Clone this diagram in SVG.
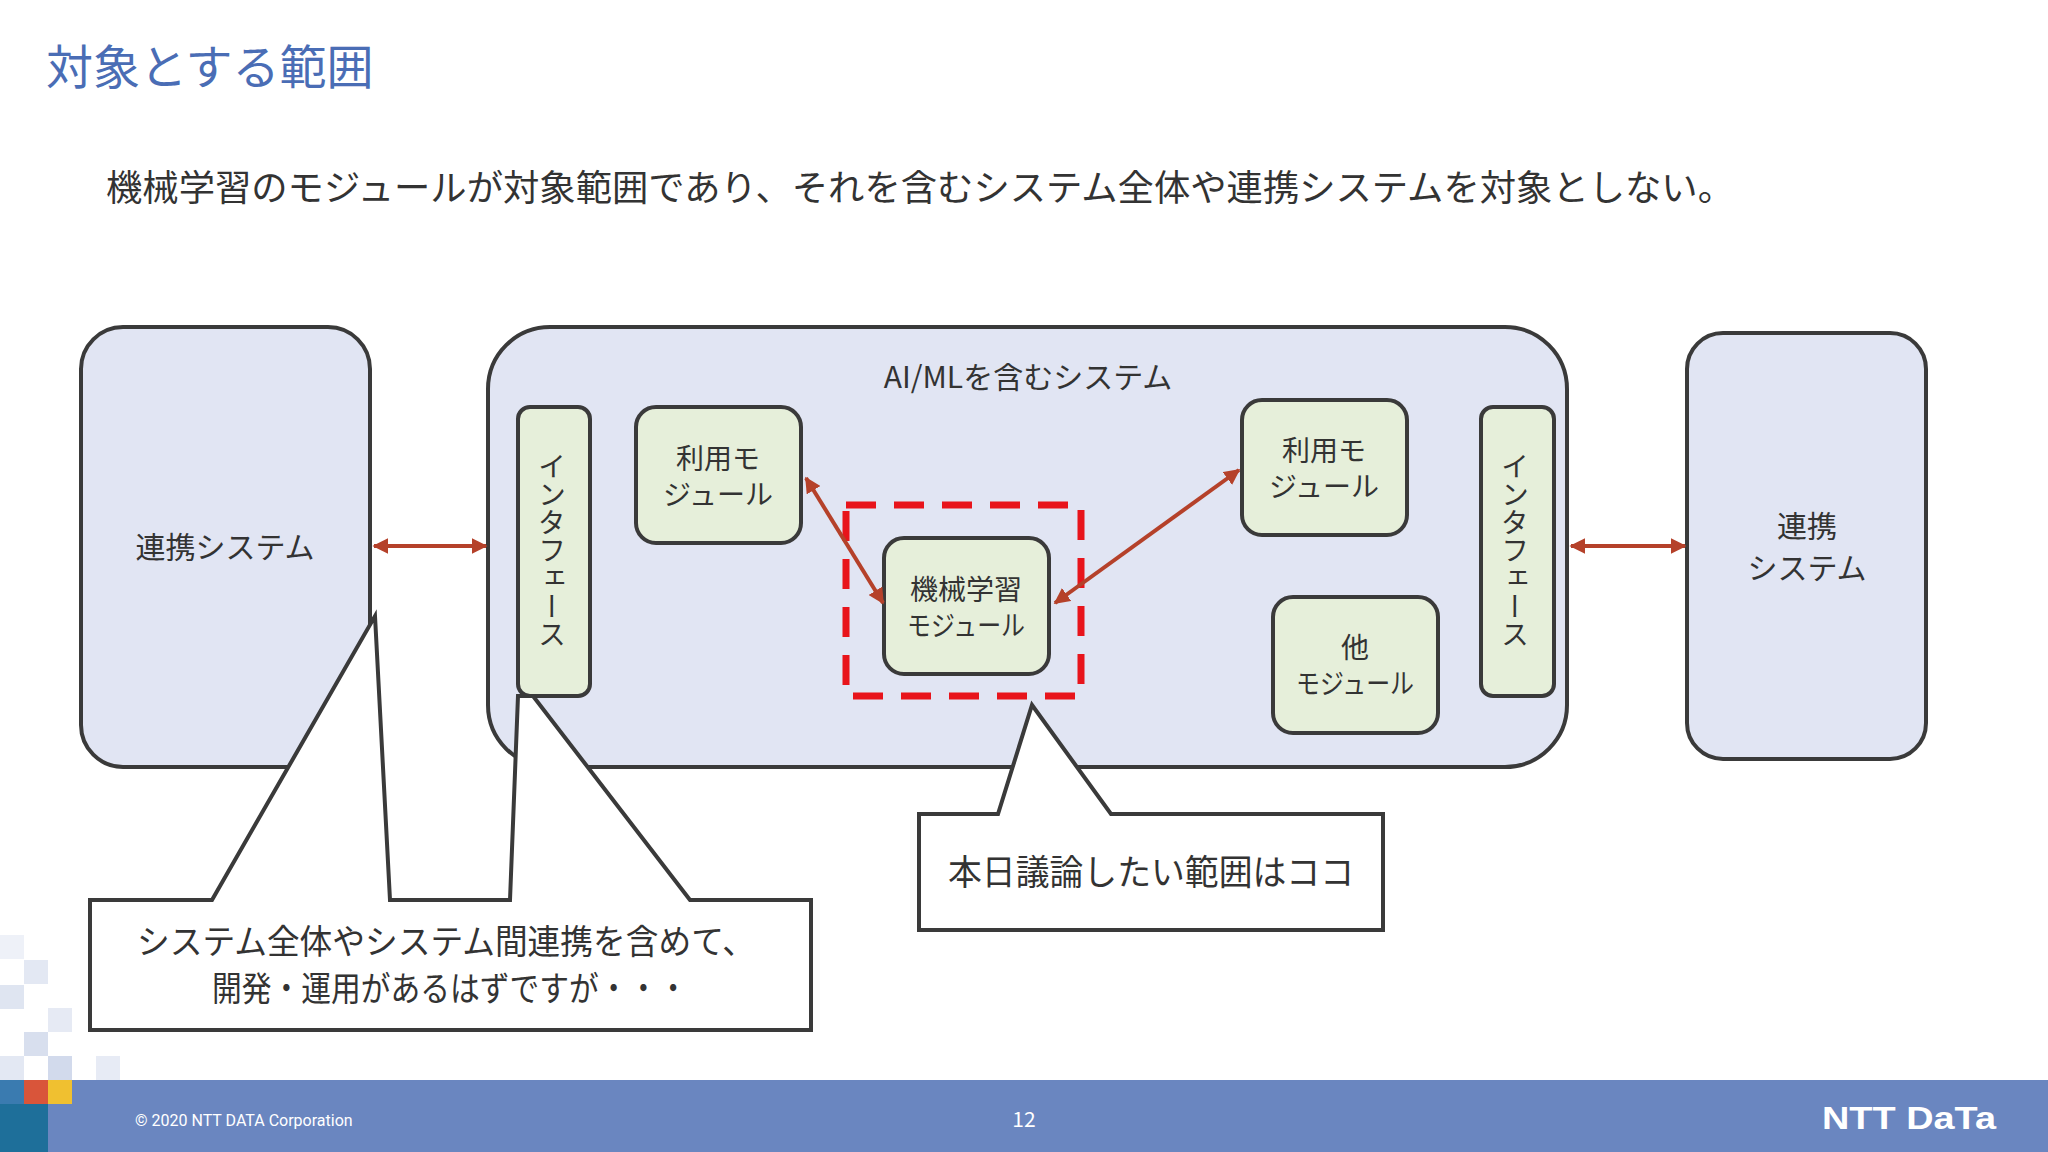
<svg xmlns="http://www.w3.org/2000/svg" width="2048" height="1152" viewBox="0 0 2048 1152">
<defs>
<style>
text{font-family:"Noto Sans CJK JP","Noto Sans",sans-serif;fill:#333}
.sys{fill:#e1e5f3;stroke:#3a3a3a;stroke-width:4}
.mod{fill:#e6efda;stroke:#3a3a3a;stroke-width:4}
.call{fill:#fff;stroke:#3a3a3a;stroke-width:4;stroke-linejoin:miter}
.lbl{font-size:30px;text-anchor:middle}
.sm{font-size:28px;text-anchor:middle}
.arr{stroke:#b5412a;stroke-width:4;fill:none;marker-start:url(#ah);marker-end:url(#ah)}
</style>
<marker id="ah" viewBox="0 0 10 10" refX="9" refY="5" markerWidth="4" markerHeight="4" orient="auto-start-reverse"><path d="M0,0L10,5L0,10z" fill="#b5412a"/></marker>
</defs>
<rect width="2048" height="1152" fill="#fff"/>
<g id="decor">
<rect x="0" y="935" width="24" height="24" fill="#eef1f8"/>
<rect x="24" y="960" width="24" height="24" fill="#e3e8f3"/>
<rect x="0" y="985" width="24" height="24" fill="#dfe5f1"/>
<rect x="48" y="1008" width="24" height="24" fill="#e6eaf4"/>
<rect x="24" y="1032" width="24" height="24" fill="#d8dfee"/>
<rect x="48" y="1056" width="24" height="24" fill="#d2daec"/>
<rect x="96" y="1056" width="24" height="24" fill="#e7ebf5"/>
<rect x="0" y="1056" width="24" height="24" fill="#e3e8f3"/>
</g>
<text x="46" y="84" style="font-size:47px;fill:#4a6db5">対象とする範囲</text>
<text x="106" y="201" style="font-size:36px" textLength="1628" lengthAdjust="spacingAndGlyphs">機械学習のモジュールが対象範囲であり、それを含むシステム全体や連携システムを対象としない。</text>
<g id="left-system"><rect class="sys" x="81" y="327" width="289" height="440" rx="42"/><text class="lbl" x="225" y="558">連携システム</text></g>
<g id="aiml-system"><rect class="sys" x="488" y="327" width="1079" height="440" rx="62"/><text class="lbl" x="1028" y="388">AI/MLを含むシステム</text></g>
<g id="right-system"><rect class="sys" x="1687" y="333" width="239" height="426" rx="36"/><text class="lbl" x="1807" y="537">連携</text><text class="lbl" x="1807" y="579">システム</text></g>
<g id="if-left"><rect class="mod" x="518" y="407" width="72" height="289" rx="12"/><text class="sm" x="552" y="452" style="writing-mode:vertical-rl;text-anchor:start">インタフェース</text></g>
<g id="if-right"><rect class="mod" x="1481" y="407" width="73" height="289" rx="12"/><text class="sm" x="1515" y="452" style="writing-mode:vertical-rl;text-anchor:start">インタフェース</text></g>
<g id="use-left"><rect class="mod" x="636" y="407" width="165" height="136" rx="20"/><text class="sm" x="718" y="469">利用モ</text><text class="sm" x="718" y="505">ジュール</text></g>
<g id="use-right"><rect class="mod" x="1242" y="400" width="165" height="135" rx="20"/><text class="sm" x="1324" y="461">利用モ</text><text class="sm" x="1324" y="497">ジュール</text></g>
<g id="ml"><rect x="846" y="505" width="235" height="191" fill="none" stroke="#e8141b" stroke-width="7" stroke-dasharray="30,18"/><rect class="mod" x="884" y="538" width="165" height="136" rx="20"/><text class="sm" x="966" y="600">機械学習</text><text class="sm" x="966" y="636" textLength="118" lengthAdjust="spacingAndGlyphs">モジュール</text></g>
<g id="other"><rect class="mod" x="1273" y="597" width="165" height="136" rx="20"/><text class="sm" x="1355" y="658">他</text><text class="sm" x="1355" y="694" textLength="118" lengthAdjust="spacingAndGlyphs">モジュール</text></g>
<g id="connectors">
<line class="arr" x1="374" y1="546" x2="486" y2="546"/>
<line class="arr" x1="1571" y1="546" x2="1685" y2="546"/>
<line class="arr" x1="806" y1="478" x2="883" y2="603"/>
<line class="arr" x1="1055" y1="603" x2="1239" y2="470"/>
</g>
<g id="callout-left">
<polygon class="call" points="90,900 212,900 375,616 390,900 510,900 518,696 533,696 690,900 811,900 811,1030 90,1030"/>
<text class="lbl" x="446" y="954" style="font-size:34px" textLength="618" lengthAdjust="spacingAndGlyphs">システム全体やシステム間連携を含めて、</text>
<text class="lbl" x="450" y="1001" style="font-size:34px" textLength="476" lengthAdjust="spacingAndGlyphs">開発・運用があるはずですが・・・</text>
</g>
<g id="callout-right">
<polygon class="call" points="919,814 998,814 1032,705 1111,814 1383,814 1383,930 919,930"/>
<text class="lbl" x="1151" y="885" style="font-size:35px" textLength="406" lengthAdjust="spacingAndGlyphs">本日議論したい範囲はココ</text>
</g>
<g id="footer">
<rect x="0" y="1080" width="2048" height="72" fill="#6a86c0"/>
<rect x="0" y="1080" width="24" height="72" fill="#3a7bb0"/>
<rect x="24" y="1080" width="24" height="24" fill="#d9553a"/>
<rect x="48" y="1080" width="24" height="24" fill="#f0c030"/>
<rect x="0" y="1104" width="48" height="48" fill="#1e6f9a"/>
<text x="135" y="1126" style="font-size:16px;fill:#fff;font-family:Roboto,sans-serif">© 2020 NTT DATA Corporation</text>
<text x="1024" y="1127" style="font-size:21px;fill:#fff;text-anchor:middle">12</text>
<text x="1822" y="1129" style="font-size:32px;font-weight:bold;fill:#fff;font-family:'Liberation Sans',sans-serif" textLength="174" lengthAdjust="spacingAndGlyphs">NTT DaTa</text>
</g>
</svg>
